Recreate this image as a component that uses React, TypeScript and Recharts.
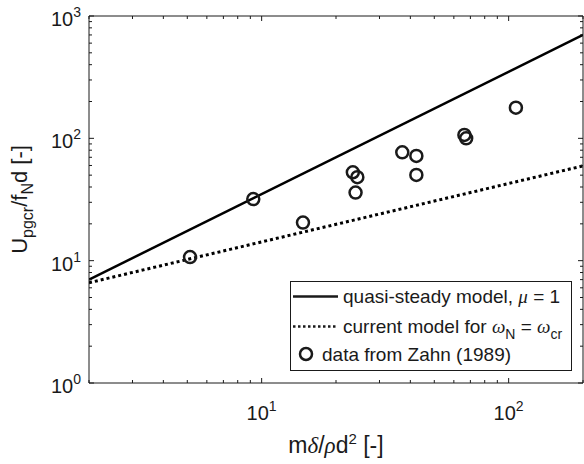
import React from "react";
import {
  ComposedChart,
  Line,
  Scatter,
  XAxis,
  YAxis,
  ReferenceArea,
  Legend,
} from "recharts";

// model lines (endpoints read at the axis limits)
const quasiX = [2, 200];
const quasiY = [7, 700];
const currentX = [2, 200];
const currentY = [6.6, 59.5];

// Zahn (1989) measurements
const zahnX = [5.13, 9.25, 14.7, 23.4, 24.4, 24.0, 37.1, 42.3, 42.3, 66.2, 67.3, 107];
const zahnY = [10.7, 31.9, 20.5, 52.8, 48.1, 36.0, 76.9, 71.8, 50.2, 106.6, 100, 178];

const xTicks = [2, 3, 4, 5, 6, 7, 8, 9, 10, 20, 30, 40, 50, 60, 70, 80, 90, 100, 200];
const yTicks = [
  1, 2, 3, 4, 5, 6, 7, 8, 9, 10, 20, 30, 40, 50, 60, 70, 80, 90, 100, 200, 300, 400,
  500, 600, 700, 800, 900, 1000,
];
const xMajor = [10, 100];
const yMajor = [1, 10, 100, 1000];

const W = 584;
const H = 464;
const PL = 89;
const PR = 583;
const PT = 16;
const PB = 383;
const INK = "#1a1a1a";
const FONT = "'Liberation Sans', Arial, Helvetica, sans-serif";
const GREEK = "'Liberation Serif', 'Times New Roman', serif";

const quasiData = quasiX.map((x, i) => ({ x, y: quasiY[i] }));
const currentData = currentX.map((x, i) => ({ x, y: currentY[i] }));
const zahnData = zahnX.map((x, i) => ({ x, y: zahnY[i] }));

const XTick = (props: any) => {
  const { x, payload } = props;
  const v = payload.value;
  const major = xMajor.includes(v);
  const len = major ? 5 : 3;
  return (
    <g>
      <line x1={x} x2={x} y1={PB} y2={PB - len} stroke={INK} />
      <line x1={x} x2={x} y1={PT} y2={PT + len} stroke={INK} />
      {major && (
        <text x={x} y={420} textAnchor="middle" fontSize={20} fill={INK} fontFamily={FONT}>
          10
          <tspan dy={-9} fontSize={14}>
            {Math.round(Math.log10(v))}
          </tspan>
        </text>
      )}
    </g>
  );
};

const YTick = (props: any) => {
  const { y, payload } = props;
  const v = payload.value;
  const major = yMajor.includes(v);
  const len = major ? 5 : 3;
  return (
    <g>
      <line x1={PL} x2={PL + len} y1={y} y2={y} stroke={INK} />
      <line x1={PR} x2={PR - len} y1={y} y2={y} stroke={INK} />
      {major && (
        <text x={81} y={y + 10} textAnchor="end" fontSize={20} fill={INK} fontFamily={FONT}>
          10
          <tspan dy={-9} fontSize={14}>
            {Math.round(Math.log10(v))}
          </tspan>
        </text>
      )}
    </g>
  );
};

const Ring = (props: any) => (
  <circle cx={props.cx} cy={props.cy} r={6} fill="none" stroke={INK} strokeWidth={2.5} />
);

const renderLegend = () => (
  <svg width={283} height={91} style={{ display: "block" }}>
    <rect x={0.5} y={0.5} width={281} height={89} fill="#fff" stroke={INK} />
    <line x1={3} x2={48} y1={15.5} y2={15.5} stroke={INK} strokeWidth={2.5} />
    <text x={53} y={22} fontSize={19} fill={INK} fontFamily={FONT}>
      quasi-steady model,{" "}
      <tspan fontFamily={GREEK} fontStyle="italic">
        μ
      </tspan>{" "}
      = 1
    </text>
    <line
      x1={3}
      x2={48}
      y1={45.5}
      y2={45.5}
      stroke={INK}
      strokeWidth={2.5}
      strokeDasharray="2.5 2.5"
    />
    <text x={53} y={52} fontSize={19} fill={INK} fontFamily={FONT}>
      current model for{" "}
      <tspan fontFamily={GREEK} fontStyle="italic">
        ω
      </tspan>
      <tspan dy={6} fontSize={14}>
        N
      </tspan>
      <tspan dy={-6}> = </tspan>
      <tspan fontFamily={GREEK} fontStyle="italic">
        ω
      </tspan>
      <tspan dy={6} fontSize={14}>
        cr
      </tspan>
    </text>
    <circle cx={16} cy={73} r={6} fill="none" stroke={INK} strokeWidth={2.5} />
    <text x={32} y={80} fontSize={19} fill={INK} fontFamily={FONT}>
      data from Zahn (1989)
    </text>
  </svg>
);

const XLabel = () => (
  <text x={(PL + PR) / 2} y={453} textAnchor="middle" fontSize={23} fill={INK} fontFamily={FONT}>
    m
    <tspan fontFamily={GREEK} fontStyle="italic">
      δ
    </tspan>
    /
    <tspan fontFamily={GREEK} fontStyle="italic">
      ρ
    </tspan>
    d
    <tspan dy={-9} fontSize={15}>
      2
    </tspan>
    <tspan dy={9}> [-]</tspan>
  </text>
);

const YLabel = () => (
  <text
    x={27}
    y={(PT + PB) / 2}
    transform={`rotate(-90, 27, ${(PT + PB) / 2})`}
    textAnchor="middle"
    fontSize={22}
    fill={INK}
    fontFamily={FONT}
  >
    U
    <tspan dy={6} fontSize={16}>
      pgcr
    </tspan>
    <tspan dy={-6}>/f</tspan>
    <tspan dy={6} fontSize={16}>
      N
    </tspan>
    <tspan dy={-6}>d [-]</tspan>
  </text>
);

export default function App() {
  return (
    <div style={{ position: "absolute", left: 0, top: 0, width: W, height: H, background: "#fff" }}>
      <ComposedChart
        width={W}
        height={H}
        margin={{ top: PT, right: W - PR, left: PL - 60, bottom: H - PB - 30 }}
      >
        <XAxis
          type="number"
          dataKey="x"
          scale="log"
          domain={[2, 200]}
          allowDataOverflow
          ticks={xTicks}
          interval={0}
          height={30}
          axisLine={false}
          tickLine={false}
          tick={<XTick />}
          label={{ content: () => <XLabel /> }}
        />
        <YAxis
          type="number"
          dataKey="y"
          scale="log"
          domain={[1, 1000]}
          allowDataOverflow
          ticks={yTicks}
          interval={0}
          width={60}
          axisLine={false}
          tickLine={false}
          tick={<YTick />}
          label={{ content: () => <YLabel /> }}
        />
        <ReferenceArea x1={2} x2={200} y1={1} y2={1000} fill="none" stroke={INK} strokeWidth={1} />
        <Line
          data={quasiData}
          dataKey="y"
          type="linear"
          stroke="#000"
          strokeWidth={2.5}
          dot={false}
          isAnimationActive={false}
        />
        <Line
          data={currentData}
          dataKey="y"
          type="linear"
          stroke="#000"
          strokeWidth={3}
          strokeDasharray="3 3"
          dot={false}
          isAnimationActive={false}
        />
        <Scatter data={zahnData} dataKey="y" shape={<Ring />} isAnimationActive={false} />
        <Legend
          layout="vertical"
          align="center"
          verticalAlign="middle"
          content={renderLegend}
          wrapperStyle={{ position: "absolute", left: 290, top: 281, width: 283, height: 91 }}
        />
      </ComposedChart>
    </div>
  );
}
